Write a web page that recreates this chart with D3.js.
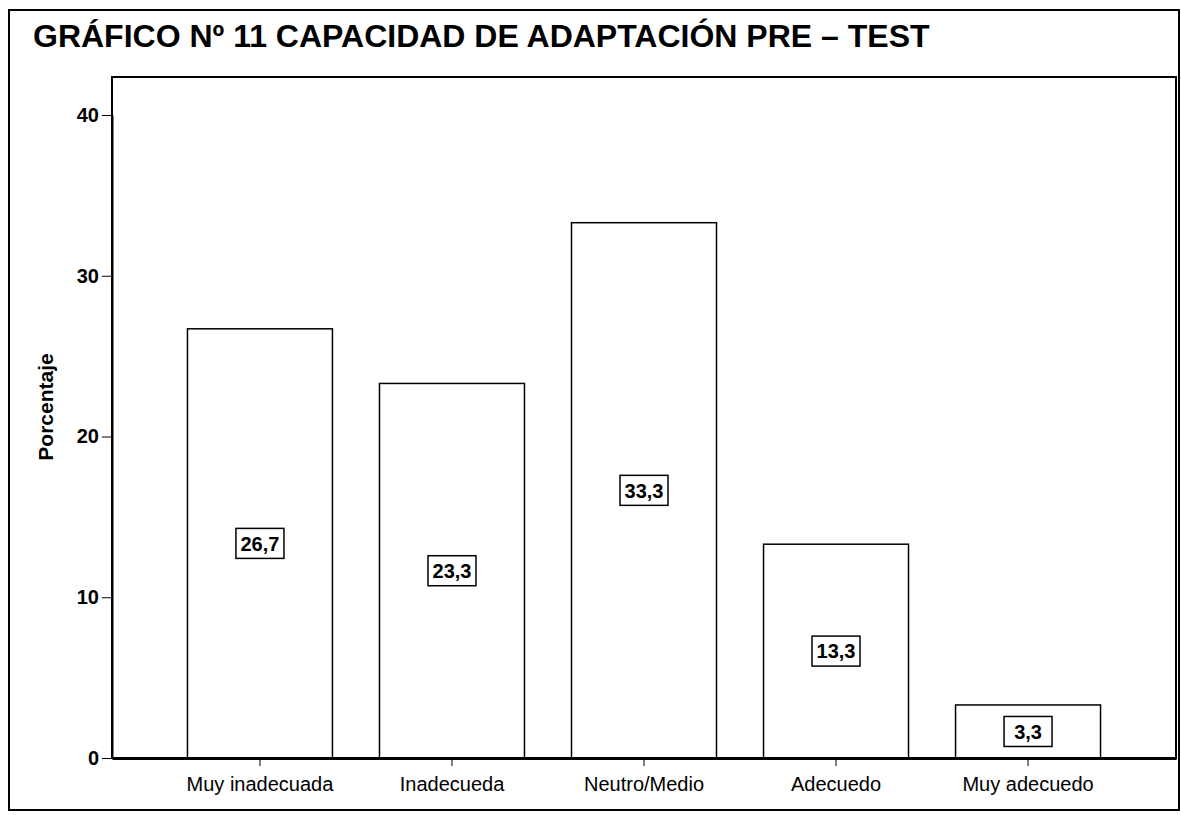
<!DOCTYPE html>
<html lang="es">
<head>
  <meta charset="utf-8">
  <title>Capacidad de adaptación pre-test</title>
  <script src="https://d3js.org/d3.v7.min.js"></script>
  <style>
    body { margin: 0; background: #fff; }
    text { font-family: Arial, "Liberation Sans", sans-serif; fill: #000; }
    .title { font-size: 32px; font-weight: bold; }
    .ytick text { font-size: 20px; font-weight: bold; }
    .xtick text { font-size: 20px; }
    .ylabel { font-size: 21px; font-weight: bold; }
    .val { font-size: 20px; font-weight: bold; text-anchor: middle; }
  </style>
</head>
<body>
  <div id="chart"></div>
  <script>
    var categories = ['Muy inadecuada', 'Inadecueda', 'Neutro/Medio', 'Adecuedo', 'Muy adecuedo'];
    var values = [26.7, 23.3, 33.3, 13.3, 3.3];
    var yTicks = [0, 10, 20, 30, 40];

    var W = 1181, H = 815;
    var plot = { left: 112, top: 77, right: 1176, bottom: 758 };

    var svg = d3.select('#chart').append('svg')
      .attr('width', W)
      .attr('height', H);

    // marco exterior
    svg.append('rect')
      .attr('x', 9).attr('y', 10)
      .attr('width', 1170).attr('height', 800)
      .attr('fill', 'none').attr('stroke', '#000').attr('stroke-width', 2);

    svg.append('text')
      .attr('class', 'title')
      .attr('x', 33).attr('y', 47)
      .text('GRÁFICO Nº 11 CAPACIDAD DE ADAPTACIÓN PRE – TEST');

    var x = d3.scaleBand()
      .domain(categories)
      .range([plot.left, plot.right])
      .paddingInner(0.245)
      .paddingOuter(0.393);

    var y = d3.scaleLinear()
      .domain([0, 40])
      .range([plot.bottom, 115]);

    // caja del area de trazado
    svg.append('rect')
      .attr('x', plot.left).attr('y', plot.top)
      .attr('width', plot.right - plot.left).attr('height', plot.bottom - plot.top)
      .attr('fill', 'none').attr('stroke', '#000').attr('stroke-width', 2);

    // barras
    svg.selectAll('rect.bar')
      .data(values)
      .enter().append('rect')
      .attr('class', 'bar')
      .attr('x', function (d, i) { return x(categories[i]); })
      .attr('y', function (d) { return y(d); })
      .attr('width', x.bandwidth())
      .attr('height', function (d) { return y(0) - y(d); })
      .attr('fill', '#fff')
      .attr('stroke', '#000')
      .attr('stroke-width', 1.5);

    // eje y
    var yAxis = svg.append('g')
      .attr('class', 'ytick')
      .attr('transform', 'translate(' + plot.left + ',0)')
      .call(d3.axisLeft(y).tickValues(yTicks).tickSize(10).tickSizeOuter(0).tickPadding(3).tickFormat(d3.format('d')));
    yAxis.select('.domain').attr('stroke-width', 2);

    // eje x
    var xAxis = svg.append('g')
      .attr('class', 'xtick')
      .attr('transform', 'translate(0,' + plot.bottom + ')')
      .call(d3.axisBottom(x).tickSize(8).tickSizeOuter(0).tickPadding(7));
    xAxis.select('.domain').attr('stroke-width', 3);
    xAxis.selectAll('text').attr('dy', '0.9em');

    svg.append('text')
      .attr('class', 'ylabel')
      .attr('transform', 'translate(53,407) rotate(-90)')
      .attr('text-anchor', 'middle')
      .text('Porcentaje');

    // etiquetas de valor con caja
    var fmt = function (d) { return d.toFixed(1).replace('.', ','); };
    var lab = svg.selectAll('g.val')
      .data(values)
      .enter().append('g')
      .attr('transform', function (d, i) {
        return 'translate(' + (x(categories[i]) + x.bandwidth() / 2) + ',' + y(d / 2) + ')';
      });
    lab.append('rect')
      .attr('x', -24).attr('y', -15)
      .attr('width', 48).attr('height', 30)
      .attr('fill', '#fff').attr('stroke', '#000').attr('stroke-width', 1.5);
    lab.append('text')
      .attr('class', 'val')
      .attr('dy', '0.36em')
      .text(fmt);
  </script>
</body>
</html>
